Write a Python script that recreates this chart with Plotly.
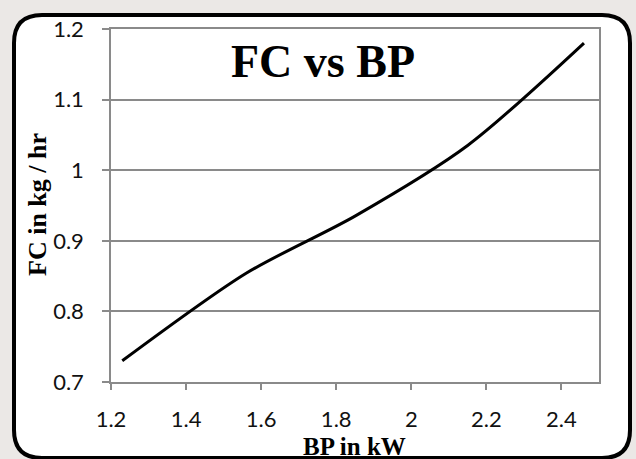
import plotly.graph_objects as go

# Data
bp_kw = [1.23, 1.56, 1.85, 2.15, 2.46]
fc_kg_hr = [0.73, 0.854, 0.935, 1.035, 1.18]

x_ticks = [1.2, 1.4, 1.6, 1.8, 2.0, 2.2, 2.4]
x_tick_labels = ["1.2", "1.4", "1.6", "1.8", "2", "2.2", "2.4"]
y_ticks = [0.7, 0.8, 0.9, 1.0, 1.1, 1.2]
y_tick_labels = ["0.7", "0.8", "0.9", "1", "1.1", "1.2"]

title_text = "FC vs BP"
x_title = "BP in kW"
y_title = "FC in kg / hr"

W, H = 636, 459
L, R, T, B = 111, 37, 29, 77
PW, PH = W - L - R, H - T - B


def px(x):
    return (x - L) / PW


def py(y):
    return (H - B - y) / PH


def rounded_rect(x0, y0, x1, y1, r):
    pts = []
    pts.append(f"M {px(x0 + r)},{py(y0)}")
    pts.append(f"L {px(x1 - r)},{py(y0)}")
    pts.append(f"Q {px(x1)},{py(y0)} {px(x1)},{py(y0 + r)}")
    pts.append(f"L {px(x1)},{py(y1 - r)}")
    pts.append(f"Q {px(x1)},{py(y1)} {px(x1 - r)},{py(y1)}")
    pts.append(f"L {px(x0 + r)},{py(y1)}")
    pts.append(f"Q {px(x0)},{py(y1)} {px(x0)},{py(y1 - r)}")
    pts.append(f"L {px(x0)},{py(y0 + r)}")
    pts.append(f"Q {px(x0)},{py(y0)} {px(x0 + r)},{py(y0)}")
    pts.append("Z")
    return " ".join(pts)


fig = go.Figure()
fig.add_trace(go.Scatter(
    x=bp_kw, y=fc_kg_hr, mode="lines",
    line=dict(color="black", width=3, shape="spline", smoothing=0.8),
    showlegend=False, hoverinfo="skip",
))

grid_col = "#8a8a8a"
tick_font = dict(family="Lato, Open Sans, sans-serif", size=22, color="#111111")
serif_bold = "Liberation Serif, Times New Roman, serif"

fig.update_layout(
    width=W, height=H,
    margin=dict(l=L, r=R, t=T, b=B, pad=0),
    paper_bgcolor="#ebe8e6",
    plot_bgcolor="white",
    xaxis=dict(
        range=[1.2, 2.5], tickvals=x_ticks, ticktext=x_tick_labels,
        showgrid=False, zeroline=False,
        showline=True, linecolor=grid_col, linewidth=1.5, mirror=True,
        ticks="outside", ticklen=6, tickwidth=1.5, tickcolor=grid_col,
        tickfont=tick_font, ticklabelstandoff=11,
    ),
    yaxis=dict(
        range=[0.7, 1.2], tickvals=y_ticks, ticktext=y_tick_labels,
        showgrid=True, gridcolor=grid_col, gridwidth=1.5, zeroline=False,
        showline=True, linecolor=grid_col, linewidth=1.5, mirror=True,
        ticks="outside", ticklen=7, tickwidth=1.5, tickcolor=grid_col,
        tickfont=tick_font, ticklabelstandoff=14,
    ),
    shapes=[dict(
        type="path", xref="paper", yref="paper",
        path=rounded_rect(14, 15, 630, 458, 28),
        fillcolor="white", line=dict(color="black", width=4), layer="below",
    )],
    annotations=[
        dict(
            text=f"<b>{title_text}</b>", xref="paper", yref="paper",
            x=px(323), y=py(62), xanchor="center", yanchor="middle",
            showarrow=False, font=dict(family=serif_bold, size=46, color="black"),
        ),
        dict(
            text=f"<b>{x_title}</b>", xref="paper", yref="paper",
            x=px(354), y=py(446), xanchor="center", yanchor="middle",
            showarrow=False, font=dict(family=serif_bold, size=25, color="black"),
        ),
        dict(
            text=f"<b>{y_title}</b>", xref="paper", yref="paper",
            x=px(37), y=py(205), xanchor="center", yanchor="middle", textangle=-90,
            showarrow=False, font=dict(family=serif_bold, size=26, color="black"),
        ),
    ],
)

fig.write_html(
    "out.html",
    config={"displayModeBar": False},
    post_script="document.body.style.margin='0';document.body.style.overflow='hidden';",
)
